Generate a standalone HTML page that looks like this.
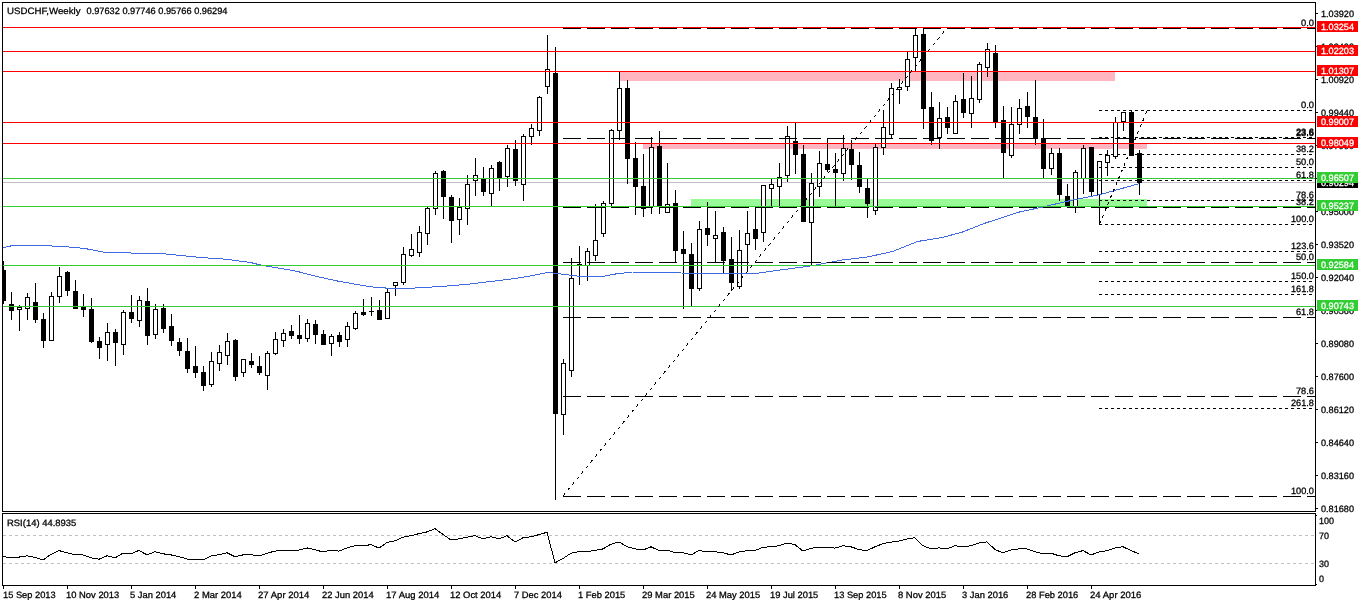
<!DOCTYPE html>
<html><head><meta charset="utf-8"><title>USDCHF Weekly</title>
<style>
html,body{margin:0;padding:0;background:#fff;}
body{width:1358px;height:606px;overflow:hidden;}
svg{display:block;}
svg text{font-family:"Liberation Sans",sans-serif;font-size:10px;white-space:pre;text-rendering:geometricPrecision;stroke:#000;stroke-width:0.3px;}
</style></head><body>
<svg width="1358" height="606" viewBox="0 0 1358 606" shape-rendering="crispEdges">
<rect x="0" y="0" width="1358" height="606" fill="#fff"/>
<g id="zones">
<rect x="619" y="72" width="496" height="9" fill="#ffb6c1"/>
<rect x="643" y="144" width="504" height="5" fill="#ffb6c1"/>
<rect x="691" y="199" width="456" height="7" fill="#98fb98"/>
</g>
<rect x="3" y="182" width="1312" height="1" fill="#c0c0c0"/>
<g id="candles">
<rect x="3" y="261" width="1" height="43" fill="#000"/>
<rect x="3" y="270" width="3" height="31" fill="#000"/>
<rect x="11" y="292" width="1" height="28" fill="#000"/>
<rect x="9" y="304" width="5" height="7" fill="#000"/>
<rect x="19" y="305" width="1" height="26" fill="#000"/>
<rect x="17" y="307" width="5" height="3" fill="#000"/>
<rect x="18" y="308" width="3" height="1" fill="#fff"/>
<rect x="27" y="293" width="1" height="27" fill="#000"/>
<rect x="25" y="297" width="5" height="12" fill="#000"/>
<rect x="26" y="298" width="3" height="10" fill="#fff"/>
<rect x="35" y="283" width="1" height="40" fill="#000"/>
<rect x="33" y="302" width="5" height="18" fill="#000"/>
<rect x="43" y="313" width="1" height="35" fill="#000"/>
<rect x="41" y="319" width="5" height="22" fill="#000"/>
<rect x="51" y="292" width="1" height="49" fill="#000"/>
<rect x="49" y="296" width="5" height="45" fill="#000"/>
<rect x="50" y="297" width="3" height="43" fill="#fff"/>
<rect x="59" y="267" width="1" height="36" fill="#000"/>
<rect x="57" y="276" width="5" height="21" fill="#000"/>
<rect x="58" y="277" width="3" height="19" fill="#fff"/>
<rect x="67" y="271" width="1" height="25" fill="#000"/>
<rect x="65" y="272" width="5" height="19" fill="#000"/>
<rect x="75" y="280" width="1" height="29" fill="#000"/>
<rect x="73" y="291" width="5" height="18" fill="#000"/>
<rect x="83" y="294" width="1" height="23" fill="#000"/>
<rect x="81" y="307" width="5" height="3" fill="#000"/>
<rect x="91" y="298" width="1" height="45" fill="#000"/>
<rect x="89" y="309" width="5" height="33" fill="#000"/>
<rect x="99" y="337" width="1" height="22" fill="#000"/>
<rect x="97" y="341" width="5" height="7" fill="#000"/>
<rect x="107" y="323" width="1" height="38" fill="#000"/>
<rect x="105" y="332" width="5" height="13" fill="#000"/>
<rect x="106" y="333" width="3" height="11" fill="#fff"/>
<rect x="115" y="329" width="1" height="37" fill="#000"/>
<rect x="113" y="332" width="5" height="11" fill="#000"/>
<rect x="123" y="310" width="1" height="45" fill="#000"/>
<rect x="121" y="312" width="5" height="33" fill="#000"/>
<rect x="122" y="313" width="3" height="31" fill="#fff"/>
<rect x="131" y="295" width="1" height="28" fill="#000"/>
<rect x="129" y="312" width="5" height="7" fill="#000"/>
<rect x="139" y="296" width="1" height="31" fill="#000"/>
<rect x="137" y="300" width="5" height="21" fill="#000"/>
<rect x="138" y="301" width="3" height="19" fill="#fff"/>
<rect x="147" y="288" width="1" height="57" fill="#000"/>
<rect x="145" y="301" width="5" height="35" fill="#000"/>
<rect x="155" y="304" width="1" height="35" fill="#000"/>
<rect x="153" y="309" width="5" height="26" fill="#000"/>
<rect x="154" y="310" width="3" height="24" fill="#fff"/>
<rect x="163" y="304" width="1" height="29" fill="#000"/>
<rect x="161" y="308" width="5" height="21" fill="#000"/>
<rect x="171" y="314" width="1" height="32" fill="#000"/>
<rect x="169" y="326" width="5" height="15" fill="#000"/>
<rect x="179" y="338" width="1" height="18" fill="#000"/>
<rect x="177" y="342" width="5" height="9" fill="#000"/>
<rect x="187" y="338" width="1" height="35" fill="#000"/>
<rect x="185" y="351" width="5" height="18" fill="#000"/>
<rect x="195" y="346" width="1" height="32" fill="#000"/>
<rect x="193" y="366" width="5" height="7" fill="#000"/>
<rect x="203" y="366" width="1" height="25" fill="#000"/>
<rect x="201" y="372" width="5" height="14" fill="#000"/>
<rect x="211" y="352" width="1" height="35" fill="#000"/>
<rect x="209" y="361" width="5" height="24" fill="#000"/>
<rect x="210" y="362" width="3" height="22" fill="#fff"/>
<rect x="219" y="345" width="1" height="26" fill="#000"/>
<rect x="217" y="352" width="5" height="12" fill="#000"/>
<rect x="218" y="353" width="3" height="10" fill="#fff"/>
<rect x="227" y="333" width="1" height="32" fill="#000"/>
<rect x="225" y="341" width="5" height="15" fill="#000"/>
<rect x="226" y="342" width="3" height="13" fill="#fff"/>
<rect x="235" y="339" width="1" height="42" fill="#000"/>
<rect x="233" y="340" width="5" height="37" fill="#000"/>
<rect x="243" y="359" width="1" height="18" fill="#000"/>
<rect x="241" y="359" width="5" height="14" fill="#000"/>
<rect x="242" y="360" width="3" height="12" fill="#fff"/>
<rect x="251" y="353" width="1" height="15" fill="#000"/>
<rect x="249" y="361" width="5" height="4" fill="#000"/>
<rect x="259" y="356" width="1" height="19" fill="#000"/>
<rect x="257" y="366" width="5" height="7" fill="#000"/>
<rect x="267" y="351" width="1" height="39" fill="#000"/>
<rect x="265" y="353" width="5" height="23" fill="#000"/>
<rect x="266" y="354" width="3" height="21" fill="#fff"/>
<rect x="275" y="332" width="1" height="23" fill="#000"/>
<rect x="273" y="339" width="5" height="15" fill="#000"/>
<rect x="274" y="340" width="3" height="13" fill="#fff"/>
<rect x="283" y="329" width="1" height="18" fill="#000"/>
<rect x="281" y="333" width="5" height="8" fill="#000"/>
<rect x="282" y="334" width="3" height="6" fill="#fff"/>
<rect x="291" y="325" width="1" height="14" fill="#000"/>
<rect x="289" y="331" width="5" height="5" fill="#000"/>
<rect x="299" y="315" width="1" height="29" fill="#000"/>
<rect x="297" y="335" width="5" height="4" fill="#000"/>
<rect x="307" y="319" width="1" height="23" fill="#000"/>
<rect x="305" y="323" width="5" height="16" fill="#000"/>
<rect x="306" y="324" width="3" height="14" fill="#fff"/>
<rect x="315" y="320" width="1" height="24" fill="#000"/>
<rect x="313" y="324" width="5" height="11" fill="#000"/>
<rect x="323" y="330" width="1" height="15" fill="#000"/>
<rect x="321" y="334" width="5" height="11" fill="#000"/>
<rect x="331" y="334" width="1" height="22" fill="#000"/>
<rect x="329" y="336" width="5" height="8" fill="#000"/>
<rect x="330" y="337" width="3" height="6" fill="#fff"/>
<rect x="339" y="332" width="1" height="15" fill="#000"/>
<rect x="337" y="335" width="5" height="7" fill="#000"/>
<rect x="347" y="322" width="1" height="25" fill="#000"/>
<rect x="345" y="326" width="5" height="14" fill="#000"/>
<rect x="346" y="327" width="3" height="12" fill="#fff"/>
<rect x="355" y="311" width="1" height="19" fill="#000"/>
<rect x="353" y="313" width="5" height="16" fill="#000"/>
<rect x="354" y="314" width="3" height="14" fill="#fff"/>
<rect x="363" y="299" width="1" height="17" fill="#000"/>
<rect x="361" y="312" width="5" height="3" fill="#000"/>
<rect x="371" y="297" width="1" height="19" fill="#000"/>
<rect x="369" y="311" width="5" height="1" fill="#000"/>
<rect x="379" y="300" width="1" height="20" fill="#000"/>
<rect x="377" y="310" width="5" height="10" fill="#000"/>
<rect x="387" y="289" width="1" height="30" fill="#000"/>
<rect x="385" y="292" width="5" height="27" fill="#000"/>
<rect x="386" y="293" width="3" height="25" fill="#fff"/>
<rect x="395" y="282" width="1" height="14" fill="#000"/>
<rect x="393" y="282" width="5" height="4" fill="#000"/>
<rect x="394" y="283" width="3" height="2" fill="#fff"/>
<rect x="403" y="247" width="1" height="38" fill="#000"/>
<rect x="401" y="254" width="5" height="29" fill="#000"/>
<rect x="402" y="255" width="3" height="27" fill="#fff"/>
<rect x="411" y="234" width="1" height="23" fill="#000"/>
<rect x="409" y="249" width="5" height="7" fill="#000"/>
<rect x="410" y="250" width="3" height="5" fill="#fff"/>
<rect x="419" y="226" width="1" height="31" fill="#000"/>
<rect x="417" y="232" width="5" height="21" fill="#000"/>
<rect x="418" y="233" width="3" height="19" fill="#fff"/>
<rect x="427" y="207" width="1" height="38" fill="#000"/>
<rect x="425" y="208" width="5" height="26" fill="#000"/>
<rect x="426" y="209" width="3" height="24" fill="#fff"/>
<rect x="435" y="171" width="1" height="44" fill="#000"/>
<rect x="433" y="173" width="5" height="36" fill="#000"/>
<rect x="434" y="174" width="3" height="34" fill="#fff"/>
<rect x="443" y="170" width="1" height="49" fill="#000"/>
<rect x="441" y="171" width="5" height="26" fill="#000"/>
<rect x="451" y="195" width="1" height="48" fill="#000"/>
<rect x="449" y="197" width="5" height="24" fill="#000"/>
<rect x="459" y="198" width="1" height="37" fill="#000"/>
<rect x="457" y="207" width="5" height="13" fill="#000"/>
<rect x="458" y="208" width="3" height="11" fill="#fff"/>
<rect x="467" y="175" width="1" height="50" fill="#000"/>
<rect x="465" y="184" width="5" height="25" fill="#000"/>
<rect x="466" y="185" width="3" height="23" fill="#fff"/>
<rect x="475" y="158" width="1" height="38" fill="#000"/>
<rect x="473" y="175" width="5" height="6" fill="#000"/>
<rect x="474" y="176" width="3" height="4" fill="#fff"/>
<rect x="483" y="167" width="1" height="29" fill="#000"/>
<rect x="481" y="179" width="5" height="13" fill="#000"/>
<rect x="491" y="165" width="1" height="41" fill="#000"/>
<rect x="489" y="168" width="5" height="26" fill="#000"/>
<rect x="490" y="169" width="3" height="24" fill="#fff"/>
<rect x="499" y="161" width="1" height="30" fill="#000"/>
<rect x="497" y="162" width="5" height="16" fill="#000"/>
<rect x="507" y="145" width="1" height="42" fill="#000"/>
<rect x="505" y="148" width="5" height="29" fill="#000"/>
<rect x="506" y="149" width="3" height="27" fill="#fff"/>
<rect x="515" y="140" width="1" height="46" fill="#000"/>
<rect x="513" y="149" width="5" height="32" fill="#000"/>
<rect x="523" y="134" width="1" height="67" fill="#000"/>
<rect x="521" y="136" width="5" height="49" fill="#000"/>
<rect x="522" y="137" width="3" height="47" fill="#fff"/>
<rect x="531" y="124" width="1" height="21" fill="#000"/>
<rect x="529" y="128" width="5" height="9" fill="#000"/>
<rect x="530" y="129" width="3" height="7" fill="#fff"/>
<rect x="539" y="96" width="1" height="40" fill="#000"/>
<rect x="537" y="97" width="5" height="34" fill="#000"/>
<rect x="538" y="98" width="3" height="32" fill="#fff"/>
<rect x="547" y="35" width="1" height="59" fill="#000"/>
<rect x="545" y="69" width="5" height="18" fill="#000"/>
<rect x="546" y="70" width="3" height="16" fill="#fff"/>
<rect x="555" y="47" width="1" height="453" fill="#000"/>
<rect x="553" y="73" width="5" height="341" fill="#000"/>
<rect x="563" y="359" width="1" height="76" fill="#000"/>
<rect x="561" y="363" width="5" height="52" fill="#000"/>
<rect x="562" y="364" width="3" height="50" fill="#fff"/>
<rect x="571" y="258" width="1" height="119" fill="#000"/>
<rect x="569" y="278" width="5" height="93" fill="#000"/>
<rect x="570" y="279" width="3" height="91" fill="#fff"/>
<rect x="579" y="246" width="1" height="39" fill="#000"/>
<rect x="577" y="264" width="5" height="1" fill="#000"/>
<rect x="587" y="248" width="1" height="33" fill="#000"/>
<rect x="585" y="251" width="5" height="15" fill="#000"/>
<rect x="586" y="252" width="3" height="13" fill="#fff"/>
<rect x="595" y="204" width="1" height="57" fill="#000"/>
<rect x="593" y="240" width="5" height="16" fill="#000"/>
<rect x="594" y="241" width="3" height="14" fill="#fff"/>
<rect x="603" y="201" width="1" height="36" fill="#000"/>
<rect x="601" y="203" width="5" height="31" fill="#000"/>
<rect x="602" y="204" width="3" height="29" fill="#fff"/>
<rect x="611" y="129" width="1" height="77" fill="#000"/>
<rect x="609" y="130" width="5" height="74" fill="#000"/>
<rect x="610" y="131" width="3" height="72" fill="#fff"/>
<rect x="619" y="72" width="1" height="68" fill="#000"/>
<rect x="617" y="88" width="5" height="43" fill="#000"/>
<rect x="618" y="89" width="3" height="41" fill="#fff"/>
<rect x="627" y="80" width="1" height="104" fill="#000"/>
<rect x="625" y="88" width="5" height="71" fill="#000"/>
<rect x="635" y="142" width="1" height="73" fill="#000"/>
<rect x="633" y="158" width="5" height="29" fill="#000"/>
<rect x="643" y="154" width="1" height="63" fill="#000"/>
<rect x="641" y="186" width="5" height="23" fill="#000"/>
<rect x="651" y="137" width="1" height="77" fill="#000"/>
<rect x="649" y="147" width="5" height="60" fill="#000"/>
<rect x="650" y="148" width="3" height="58" fill="#fff"/>
<rect x="659" y="131" width="1" height="83" fill="#000"/>
<rect x="657" y="146" width="5" height="61" fill="#000"/>
<rect x="667" y="163" width="1" height="50" fill="#000"/>
<rect x="665" y="204" width="5" height="9" fill="#000"/>
<rect x="666" y="205" width="3" height="7" fill="#fff"/>
<rect x="675" y="190" width="1" height="73" fill="#000"/>
<rect x="673" y="203" width="5" height="48" fill="#000"/>
<rect x="683" y="231" width="1" height="78" fill="#000"/>
<rect x="681" y="249" width="5" height="5" fill="#000"/>
<rect x="691" y="243" width="1" height="64" fill="#000"/>
<rect x="689" y="254" width="5" height="35" fill="#000"/>
<rect x="699" y="221" width="1" height="70" fill="#000"/>
<rect x="697" y="229" width="5" height="60" fill="#000"/>
<rect x="698" y="230" width="3" height="58" fill="#fff"/>
<rect x="707" y="202" width="1" height="44" fill="#000"/>
<rect x="705" y="228" width="5" height="7" fill="#000"/>
<rect x="715" y="211" width="1" height="52" fill="#000"/>
<rect x="713" y="235" width="5" height="4" fill="#000"/>
<rect x="714" y="236" width="3" height="2" fill="#fff"/>
<rect x="723" y="227" width="1" height="46" fill="#000"/>
<rect x="721" y="232" width="5" height="29" fill="#000"/>
<rect x="731" y="237" width="1" height="54" fill="#000"/>
<rect x="729" y="259" width="5" height="24" fill="#000"/>
<rect x="739" y="230" width="1" height="59" fill="#000"/>
<rect x="737" y="250" width="5" height="37" fill="#000"/>
<rect x="738" y="251" width="3" height="35" fill="#fff"/>
<rect x="747" y="211" width="1" height="60" fill="#000"/>
<rect x="745" y="233" width="5" height="12" fill="#000"/>
<rect x="746" y="234" width="3" height="10" fill="#fff"/>
<rect x="755" y="207" width="1" height="43" fill="#000"/>
<rect x="753" y="229" width="5" height="10" fill="#000"/>
<rect x="763" y="185" width="1" height="57" fill="#000"/>
<rect x="761" y="185" width="5" height="48" fill="#000"/>
<rect x="762" y="186" width="3" height="46" fill="#fff"/>
<rect x="771" y="179" width="1" height="27" fill="#000"/>
<rect x="769" y="184" width="5" height="5" fill="#000"/>
<rect x="770" y="185" width="3" height="3" fill="#fff"/>
<rect x="779" y="163" width="1" height="43" fill="#000"/>
<rect x="777" y="177" width="5" height="10" fill="#000"/>
<rect x="778" y="178" width="3" height="8" fill="#fff"/>
<rect x="787" y="126" width="1" height="56" fill="#000"/>
<rect x="785" y="136" width="5" height="40" fill="#000"/>
<rect x="786" y="137" width="3" height="38" fill="#fff"/>
<rect x="795" y="123" width="1" height="51" fill="#000"/>
<rect x="793" y="141" width="5" height="14" fill="#000"/>
<rect x="803" y="145" width="1" height="77" fill="#000"/>
<rect x="801" y="154" width="5" height="68" fill="#000"/>
<rect x="811" y="173" width="1" height="93" fill="#000"/>
<rect x="809" y="183" width="5" height="40" fill="#000"/>
<rect x="810" y="184" width="3" height="38" fill="#fff"/>
<rect x="819" y="151" width="1" height="46" fill="#000"/>
<rect x="817" y="163" width="5" height="24" fill="#000"/>
<rect x="818" y="164" width="3" height="22" fill="#fff"/>
<rect x="827" y="138" width="1" height="34" fill="#000"/>
<rect x="825" y="164" width="5" height="6" fill="#000"/>
<rect x="835" y="153" width="1" height="53" fill="#000"/>
<rect x="833" y="169" width="5" height="4" fill="#000"/>
<rect x="843" y="135" width="1" height="46" fill="#000"/>
<rect x="841" y="148" width="5" height="26" fill="#000"/>
<rect x="842" y="149" width="3" height="24" fill="#fff"/>
<rect x="851" y="140" width="1" height="40" fill="#000"/>
<rect x="849" y="149" width="5" height="16" fill="#000"/>
<rect x="859" y="152" width="1" height="41" fill="#000"/>
<rect x="857" y="165" width="5" height="22" fill="#000"/>
<rect x="867" y="179" width="1" height="39" fill="#000"/>
<rect x="865" y="188" width="5" height="16" fill="#000"/>
<rect x="875" y="144" width="1" height="71" fill="#000"/>
<rect x="873" y="147" width="5" height="64" fill="#000"/>
<rect x="874" y="148" width="3" height="62" fill="#fff"/>
<rect x="883" y="110" width="1" height="45" fill="#000"/>
<rect x="881" y="127" width="5" height="21" fill="#000"/>
<rect x="882" y="128" width="3" height="19" fill="#fff"/>
<rect x="891" y="83" width="1" height="56" fill="#000"/>
<rect x="889" y="88" width="5" height="47" fill="#000"/>
<rect x="890" y="89" width="3" height="45" fill="#fff"/>
<rect x="899" y="79" width="1" height="25" fill="#000"/>
<rect x="897" y="87" width="5" height="3" fill="#000"/>
<rect x="898" y="88" width="3" height="1" fill="#fff"/>
<rect x="907" y="52" width="1" height="39" fill="#000"/>
<rect x="905" y="59" width="5" height="28" fill="#000"/>
<rect x="906" y="60" width="3" height="26" fill="#fff"/>
<rect x="915" y="28" width="1" height="44" fill="#000"/>
<rect x="913" y="35" width="5" height="23" fill="#000"/>
<rect x="914" y="36" width="3" height="21" fill="#fff"/>
<rect x="923" y="28" width="1" height="101" fill="#000"/>
<rect x="921" y="34" width="5" height="75" fill="#000"/>
<rect x="931" y="92" width="1" height="53" fill="#000"/>
<rect x="929" y="107" width="5" height="34" fill="#000"/>
<rect x="939" y="102" width="1" height="47" fill="#000"/>
<rect x="937" y="118" width="5" height="20" fill="#000"/>
<rect x="938" y="119" width="3" height="18" fill="#fff"/>
<rect x="947" y="107" width="1" height="27" fill="#000"/>
<rect x="945" y="117" width="5" height="11" fill="#000"/>
<rect x="955" y="95" width="1" height="39" fill="#000"/>
<rect x="953" y="101" width="5" height="33" fill="#000"/>
<rect x="954" y="102" width="3" height="31" fill="#fff"/>
<rect x="963" y="73" width="1" height="45" fill="#000"/>
<rect x="961" y="99" width="5" height="14" fill="#000"/>
<rect x="971" y="76" width="1" height="52" fill="#000"/>
<rect x="969" y="98" width="5" height="16" fill="#000"/>
<rect x="970" y="99" width="3" height="14" fill="#fff"/>
<rect x="979" y="62" width="1" height="41" fill="#000"/>
<rect x="977" y="64" width="5" height="36" fill="#000"/>
<rect x="978" y="65" width="3" height="34" fill="#fff"/>
<rect x="987" y="43" width="1" height="34" fill="#000"/>
<rect x="985" y="49" width="5" height="19" fill="#000"/>
<rect x="986" y="50" width="3" height="17" fill="#fff"/>
<rect x="995" y="45" width="1" height="83" fill="#000"/>
<rect x="993" y="53" width="5" height="70" fill="#000"/>
<rect x="1003" y="106" width="1" height="72" fill="#000"/>
<rect x="1001" y="120" width="5" height="33" fill="#000"/>
<rect x="1011" y="107" width="1" height="51" fill="#000"/>
<rect x="1009" y="124" width="5" height="32" fill="#000"/>
<rect x="1010" y="125" width="3" height="30" fill="#fff"/>
<rect x="1019" y="99" width="1" height="35" fill="#000"/>
<rect x="1017" y="108" width="5" height="17" fill="#000"/>
<rect x="1018" y="109" width="3" height="15" fill="#fff"/>
<rect x="1027" y="92" width="1" height="36" fill="#000"/>
<rect x="1025" y="106" width="5" height="11" fill="#000"/>
<rect x="1035" y="80" width="1" height="65" fill="#000"/>
<rect x="1033" y="117" width="5" height="22" fill="#000"/>
<rect x="1043" y="119" width="1" height="60" fill="#000"/>
<rect x="1041" y="138" width="5" height="31" fill="#000"/>
<rect x="1051" y="148" width="1" height="27" fill="#000"/>
<rect x="1049" y="153" width="5" height="16" fill="#000"/>
<rect x="1050" y="154" width="3" height="14" fill="#fff"/>
<rect x="1059" y="148" width="1" height="53" fill="#000"/>
<rect x="1057" y="153" width="5" height="42" fill="#000"/>
<rect x="1067" y="184" width="1" height="22" fill="#000"/>
<rect x="1065" y="196" width="5" height="10" fill="#000"/>
<rect x="1075" y="170" width="1" height="43" fill="#000"/>
<rect x="1073" y="172" width="5" height="35" fill="#000"/>
<rect x="1074" y="173" width="3" height="33" fill="#fff"/>
<rect x="1083" y="145" width="1" height="49" fill="#000"/>
<rect x="1081" y="148" width="5" height="31" fill="#000"/>
<rect x="1082" y="149" width="3" height="29" fill="#fff"/>
<rect x="1091" y="147" width="1" height="50" fill="#000"/>
<rect x="1089" y="147" width="5" height="45" fill="#000"/>
<rect x="1099" y="161" width="1" height="64" fill="#000"/>
<rect x="1097" y="161" width="5" height="34" fill="#000"/>
<rect x="1098" y="162" width="3" height="32" fill="#fff"/>
<rect x="1107" y="150" width="1" height="26" fill="#000"/>
<rect x="1105" y="155" width="5" height="8" fill="#000"/>
<rect x="1106" y="156" width="3" height="6" fill="#fff"/>
<rect x="1115" y="117" width="1" height="42" fill="#000"/>
<rect x="1113" y="122" width="5" height="35" fill="#000"/>
<rect x="1114" y="123" width="3" height="33" fill="#fff"/>
<rect x="1123" y="112" width="1" height="19" fill="#000"/>
<rect x="1121" y="112" width="5" height="10" fill="#000"/>
<rect x="1122" y="113" width="3" height="8" fill="#fff"/>
<rect x="1131" y="110" width="1" height="46" fill="#000"/>
<rect x="1129" y="112" width="5" height="44" fill="#000"/>
<rect x="1139" y="150" width="1" height="45" fill="#000"/>
<rect x="1137" y="153" width="5" height="30" fill="#000"/>
</g>
<polyline points="3.5,247.5 10.5,246.0 20.5,245.5 40.5,245.5 62.5,246.5 75.5,247.5 87.5,249.0 105.5,252.5 130.5,253.0 160.5,253.5 180.5,255.5 200.5,257.5 225.5,259.2 250.5,262.5 262.5,265.5 287.5,269.5 300.5,272.2 312.5,275.5 337.5,281.0 340.5,281.5 365.5,286.0 378.5,287.7 385.5,288.0 415.5,288.0 440.5,286.5 465.5,284.5 490.5,281.5 515.5,278.5 532.5,275.5 547.5,272.5 552.5,273.0 565.5,274.5 580.5,276.5 602.5,276.5 615.5,274.0 632.5,272.0 670.5,272.0 680.5,273.0 720.5,273.5 755.5,273.5 780.5,270.0 810.5,266.0 842.5,260.0 867.5,257.0 892.5,251.5 917.5,241.5 942.5,237.5 962.5,232.0 985.5,223.0 1005.5,216.5 1019.5,212.0 1040.5,207.5 1068.5,201.0 1100.5,194.5 1139.5,183.5" fill="none" stroke="#4169e1" stroke-width="1"/>
<g id="hlines">
<rect x="3" y="27" width="1312" height="1" fill="#ff0000"/>
<rect x="3" y="51" width="1312" height="1" fill="#ff0000"/>
<rect x="3" y="71" width="1312" height="1" fill="#ff0000"/>
<rect x="3" y="122" width="1312" height="1" fill="#ff0000"/>
<rect x="3" y="143" width="1312" height="1" fill="#ff0000"/>
<rect x="3" y="178" width="1312" height="1" fill="#32cd32"/>
<rect x="3" y="206" width="1312" height="1" fill="#32cd32"/>
<rect x="3" y="265" width="1312" height="1" fill="#32cd32"/>
<rect x="3" y="306" width="1312" height="1" fill="#32cd32"/>
</g>
<g id="fib1" stroke="#000" stroke-width="1" fill="none">
<line x1="563" y1="28.5" x2="1315" y2="28.5" stroke-dasharray="18 6"/>
<line x1="563" y1="138.5" x2="1315" y2="138.5" stroke-dasharray="18 6"/>
<line x1="563" y1="207.5" x2="1315" y2="207.5" stroke-dasharray="18 6"/>
<line x1="563" y1="262.5" x2="1315" y2="262.5" stroke-dasharray="18 6"/>
<line x1="563" y1="317.5" x2="1315" y2="317.5" stroke-dasharray="18 6"/>
<line x1="563" y1="396.5" x2="1315" y2="396.5" stroke-dasharray="18 6"/>
<line x1="563" y1="496.5" x2="1315" y2="496.5" stroke-dasharray="18 6"/>
<line x1="563" y1="496" x2="947" y2="28" stroke-dasharray="3 4.2"/>
</g>
<g id="fib2" stroke="#000" stroke-width="1" fill="none">
<line x1="1099" y1="110.5" x2="1315" y2="110.5" stroke-dasharray="3 3"/>
<line x1="1099" y1="137.5" x2="1315" y2="137.5" stroke-dasharray="3 3"/>
<line x1="1099" y1="154.5" x2="1315" y2="154.5" stroke-dasharray="3 3"/>
<line x1="1099" y1="167.5" x2="1315" y2="167.5" stroke-dasharray="3 3"/>
<line x1="1099" y1="180.5" x2="1315" y2="180.5" stroke-dasharray="3 3"/>
<line x1="1099" y1="200.5" x2="1315" y2="200.5" stroke-dasharray="3 3"/>
<line x1="1099" y1="224.5" x2="1315" y2="224.5" stroke-dasharray="3 3"/>
<line x1="1099" y1="251.5" x2="1315" y2="251.5" stroke-dasharray="3 3"/>
<line x1="1099" y1="281.5" x2="1315" y2="281.5" stroke-dasharray="3 3"/>
<line x1="1099" y1="294.5" x2="1315" y2="294.5" stroke-dasharray="3 3"/>
<line x1="1099" y1="408.5" x2="1315" y2="408.5" stroke-dasharray="3 3"/>
<line x1="1099.5" y1="224" x2="1147" y2="111" stroke-dasharray="3 4"/>
</g>
<g id="fiblabels">
<text transform="translate(1300.97 25.5) scale(1 0.92)" textLength="13.0" lengthAdjust="spacingAndGlyphs">0.0</text>
<text transform="translate(1295.97 135.5) scale(1 0.92)" textLength="18.0" lengthAdjust="spacingAndGlyphs">23.6</text>
<text transform="translate(1295.97 204.5) scale(1 0.92)" textLength="18.0" lengthAdjust="spacingAndGlyphs">38.2</text>
<text transform="translate(1295.97 259.5) scale(1 0.92)" textLength="18.0" lengthAdjust="spacingAndGlyphs">50.0</text>
<text transform="translate(1295.97 314.5) scale(1 0.92)" textLength="18.0" lengthAdjust="spacingAndGlyphs">61.8</text>
<text transform="translate(1295.97 393.5) scale(1 0.92)" textLength="18.0" lengthAdjust="spacingAndGlyphs">78.6</text>
<text transform="translate(1290.97 493.5) scale(1 0.92)" textLength="23.0" lengthAdjust="spacingAndGlyphs">100.0</text>
<text transform="translate(1300.97 107.5) scale(1 0.92)" textLength="13.0" lengthAdjust="spacingAndGlyphs">0.0</text>
<text transform="translate(1295.97 134.5) scale(1 0.92)" textLength="18.0" lengthAdjust="spacingAndGlyphs">23.6</text>
<text transform="translate(1295.97 151.5) scale(1 0.92)" textLength="18.0" lengthAdjust="spacingAndGlyphs">38.2</text>
<text transform="translate(1295.97 164.5) scale(1 0.92)" textLength="18.0" lengthAdjust="spacingAndGlyphs">50.0</text>
<text transform="translate(1295.97 177.5) scale(1 0.92)" textLength="18.0" lengthAdjust="spacingAndGlyphs">61.8</text>
<text transform="translate(1295.97 197.5) scale(1 0.92)" textLength="18.0" lengthAdjust="spacingAndGlyphs">78.6</text>
<text transform="translate(1290.97 221.5) scale(1 0.92)" textLength="23.0" lengthAdjust="spacingAndGlyphs">100.0</text>
<text transform="translate(1290.97 248.5) scale(1 0.92)" textLength="23.0" lengthAdjust="spacingAndGlyphs">123.6</text>
<text transform="translate(1290.97 278.5) scale(1 0.92)" textLength="23.0" lengthAdjust="spacingAndGlyphs">150.0</text>
<text transform="translate(1290.97 291.5) scale(1 0.92)" textLength="23.0" lengthAdjust="spacingAndGlyphs">161.8</text>
<text transform="translate(1290.97 405.5) scale(1 0.92)" textLength="23.0" lengthAdjust="spacingAndGlyphs">261.8</text>
</g>
<g id="frame">
<rect x="2" y="2" width="1314" height="1" fill="#000"/>
<rect x="2" y="2" width="1" height="510" fill="#000"/>
<rect x="2" y="513" width="1" height="73" fill="#000"/>
<rect x="1315" y="2" width="1" height="510" fill="#000"/>
<rect x="1315" y="513" width="1" height="73" fill="#000"/>
<rect x="1316" y="515" width="1" height="1" fill="#000"/>
<rect x="1316" y="584" width="1" height="1" fill="#000"/>
<rect x="2" y="511" width="1314" height="1" fill="#000"/>
<rect x="2" y="513" width="1314" height="1" fill="#000"/>
<rect x="2" y="585" width="1314" height="1" fill="#000"/>
</g>
<g id="paxis">
<rect x="1316" y="13" width="2" height="1" fill="#000"/>
<text transform="translate(1321 17) scale(1 0.92)" textLength="33.0" lengthAdjust="spacingAndGlyphs">1.03920</text>
<rect x="1316" y="46" width="2" height="1" fill="#000"/>
<text transform="translate(1321 50) scale(1 0.92)" textLength="33.0" lengthAdjust="spacingAndGlyphs">1.02400</text>
<rect x="1316" y="79" width="2" height="1" fill="#000"/>
<text transform="translate(1321 83) scale(1 0.92)" textLength="33.0" lengthAdjust="spacingAndGlyphs">1.00920</text>
<rect x="1316" y="112" width="2" height="1" fill="#000"/>
<text transform="translate(1321 116) scale(1 0.92)" textLength="33.0" lengthAdjust="spacingAndGlyphs">0.99440</text>
<rect x="1316" y="145" width="2" height="1" fill="#000"/>
<text transform="translate(1321 149) scale(1 0.92)" textLength="33.0" lengthAdjust="spacingAndGlyphs">0.97960</text>
<rect x="1316" y="178" width="2" height="1" fill="#000"/>
<text transform="translate(1321 182) scale(1 0.92)" textLength="33.0" lengthAdjust="spacingAndGlyphs">0.96480</text>
<rect x="1316" y="211" width="2" height="1" fill="#000"/>
<text transform="translate(1321 215) scale(1 0.92)" textLength="33.0" lengthAdjust="spacingAndGlyphs">0.95000</text>
<rect x="1316" y="244" width="2" height="1" fill="#000"/>
<text transform="translate(1321 248) scale(1 0.92)" textLength="33.0" lengthAdjust="spacingAndGlyphs">0.93520</text>
<rect x="1316" y="277" width="2" height="1" fill="#000"/>
<text transform="translate(1321 281) scale(1 0.92)" textLength="33.0" lengthAdjust="spacingAndGlyphs">0.92040</text>
<rect x="1316" y="310" width="2" height="1" fill="#000"/>
<text transform="translate(1321 314) scale(1 0.92)" textLength="33.0" lengthAdjust="spacingAndGlyphs">0.90560</text>
<rect x="1316" y="343" width="2" height="1" fill="#000"/>
<text transform="translate(1321 347) scale(1 0.92)" textLength="33.0" lengthAdjust="spacingAndGlyphs">0.89080</text>
<rect x="1316" y="376" width="2" height="1" fill="#000"/>
<text transform="translate(1321 380) scale(1 0.92)" textLength="33.0" lengthAdjust="spacingAndGlyphs">0.87600</text>
<rect x="1316" y="409" width="2" height="1" fill="#000"/>
<text transform="translate(1321 413) scale(1 0.92)" textLength="33.0" lengthAdjust="spacingAndGlyphs">0.86120</text>
<rect x="1316" y="442" width="2" height="1" fill="#000"/>
<text transform="translate(1321 446) scale(1 0.92)" textLength="33.0" lengthAdjust="spacingAndGlyphs">0.84640</text>
<rect x="1316" y="475" width="2" height="1" fill="#000"/>
<text transform="translate(1321 479) scale(1 0.92)" textLength="33.0" lengthAdjust="spacingAndGlyphs">0.83160</text>
<rect x="1316" y="508" width="2" height="1" fill="#000"/>
<text transform="translate(1321 512) scale(1 0.92)" textLength="33.0" lengthAdjust="spacingAndGlyphs">0.81680</text>
</g>
<g id="tags">
<rect x="1317" y="177" width="41" height="11" fill="#000"/>
<text transform="translate(1321 186) scale(1 0.92)" textLength="33.0" lengthAdjust="spacingAndGlyphs" fill="#fff" style="stroke:#fff">0.96294</text>
<rect x="1317" y="21" width="41" height="11" fill="#ff0000"/>
<text transform="translate(1321 30) scale(1 0.92)" textLength="33.0" lengthAdjust="spacingAndGlyphs" fill="#fff" style="stroke:#fff">1.03254</text>
<rect x="1317" y="45" width="41" height="11" fill="#ff0000"/>
<text transform="translate(1321 54) scale(1 0.92)" textLength="33.0" lengthAdjust="spacingAndGlyphs" fill="#fff" style="stroke:#fff">1.02203</text>
<rect x="1317" y="65" width="41" height="11" fill="#ff0000"/>
<text transform="translate(1321 74) scale(1 0.92)" textLength="33.0" lengthAdjust="spacingAndGlyphs" fill="#fff" style="stroke:#fff">1.01307</text>
<rect x="1317" y="116" width="41" height="11" fill="#ff0000"/>
<text transform="translate(1321 125) scale(1 0.92)" textLength="33.0" lengthAdjust="spacingAndGlyphs" fill="#fff" style="stroke:#fff">0.99007</text>
<rect x="1317" y="137" width="41" height="11" fill="#ff0000"/>
<text transform="translate(1321 146) scale(1 0.92)" textLength="33.0" lengthAdjust="spacingAndGlyphs" fill="#fff" style="stroke:#fff">0.98049</text>
<rect x="1317" y="172" width="41" height="11" fill="#32cd32"/>
<text transform="translate(1321 181) scale(1 0.92)" textLength="33.0" lengthAdjust="spacingAndGlyphs" fill="#fff" style="stroke:#fff">0.96507</text>
<rect x="1317" y="200" width="41" height="11" fill="#32cd32"/>
<text transform="translate(1321 209) scale(1 0.92)" textLength="33.0" lengthAdjust="spacingAndGlyphs" fill="#fff" style="stroke:#fff">0.95237</text>
<rect x="1317" y="259" width="41" height="11" fill="#32cd32"/>
<text transform="translate(1321 268) scale(1 0.92)" textLength="33.0" lengthAdjust="spacingAndGlyphs" fill="#fff" style="stroke:#fff">0.92584</text>
<rect x="1317" y="300" width="41" height="11" fill="#32cd32"/>
<text transform="translate(1321 309) scale(1 0.92)" textLength="33.0" lengthAdjust="spacingAndGlyphs" fill="#fff" style="stroke:#fff">0.90743</text>
</g>
<g id="rsi">
<line x1="3" y1="535.5" x2="1315" y2="535.5" stroke="#c0c0c0" stroke-dasharray="3 3"/>
<line x1="3" y1="563.5" x2="1315" y2="563.5" stroke="#c0c0c0" stroke-dasharray="3 3"/>
<polyline points="3,556.4 11,557.9 19,557.1 27,555.8 35,557.5 43,560.0 51,554.3 59,550.6 67,552.8 75,554.9 83,554.9 91,557.9 99,559.2 107,555.8 115,557.9 123,553.2 131,553.8 139,550.4 147,554.9 155,551.7 163,553.8 171,554.9 179,556.6 187,559.0 195,559.0 203,560.0 211,556.0 219,554.7 227,552.8 235,556.8 243,554.9 251,554.7 259,556.0 267,553.2 275,551.1 283,550.0 291,550.0 299,550.0 307,547.9 315,549.6 323,552.1 331,550.0 339,551.1 347,547.9 355,545.7 363,545.7 371,544.7 379,548.1 387,542.5 395,540.8 403,537.2 411,535.7 419,533.6 427,531.9 435,528.7 443,534.4 451,540.0 459,538.9 467,537.2 475,535.7 483,538.9 491,536.8 499,538.9 507,535.7 515,541.9 523,537.8 531,536.8 539,534.6 547,532.3 555,562.8 563,558.5 571,553.2 579,551.5 587,551.7 595,550.4 603,548.9 611,544.2 619,541.9 627,546.8 635,548.9 643,550.0 651,546.8 659,550.6 667,550.0 675,552.8 683,552.8 691,554.9 699,550.6 707,551.7 715,551.7 723,552.8 731,554.9 739,552.1 747,550.6 755,550.6 763,547.2 771,546.8 779,545.7 787,543.0 795,544.7 803,551.1 811,548.3 819,547.2 827,547.2 835,548.1 843,545.7 851,546.8 859,549.6 867,550.6 875,546.8 883,543.6 891,542.1 899,541.0 907,538.9 915,537.8 923,545.7 931,548.9 939,547.9 947,548.9 955,545.7 963,546.8 971,545.7 979,543.0 987,541.9 995,549.6 1003,552.8 1011,550.0 1019,548.9 1027,548.9 1035,551.7 1043,553.8 1051,553.2 1059,555.8 1067,556.8 1075,552.8 1083,550.6 1091,554.9 1099,552.1 1107,550.6 1115,547.9 1123,546.8 1131,550.6 1139,553.8" fill="none" stroke="#000" stroke-width="1"/>
<text transform="translate(7 526) scale(1 0.92)" textLength="69.3" lengthAdjust="spacingAndGlyphs">RSI(14) 44.8935</text>
<text transform="translate(1319 524) scale(1 0.92)" textLength="15.0" lengthAdjust="spacingAndGlyphs">100</text>
<text transform="translate(1319 539) scale(1 0.92)" textLength="10.0" lengthAdjust="spacingAndGlyphs">70</text>
<text transform="translate(1319 567) scale(1 0.92)" textLength="10.0" lengthAdjust="spacingAndGlyphs">30</text>
<text transform="translate(1319 582) scale(1 0.92)" textLength="5.0" lengthAdjust="spacingAndGlyphs">0</text>
</g>
<g id="dates">
<rect x="3" y="586" width="1" height="3" fill="#000"/>
<text transform="translate(3 598) scale(1 0.92)" textLength="52.6" lengthAdjust="spacingAndGlyphs">15 Sep 2013</text>
<rect x="67" y="586" width="1" height="3" fill="#000"/>
<text transform="translate(66 598) scale(1 0.92)" textLength="53.3" lengthAdjust="spacingAndGlyphs">10 Nov 2013</text>
<rect x="131" y="586" width="1" height="3" fill="#000"/>
<text transform="translate(130 598) scale(1 0.92)" textLength="46.3" lengthAdjust="spacingAndGlyphs">5 Jan 2014</text>
<rect x="195" y="586" width="1" height="3" fill="#000"/>
<text transform="translate(194 598) scale(1 0.92)" textLength="47.8" lengthAdjust="spacingAndGlyphs">2 Mar 2014</text>
<rect x="259" y="586" width="1" height="3" fill="#000"/>
<text transform="translate(258 598) scale(1 0.92)" textLength="51.4" lengthAdjust="spacingAndGlyphs">27 Apr 2014</text>
<rect x="323" y="586" width="1" height="3" fill="#000"/>
<text transform="translate(322 598) scale(1 0.92)" textLength="51.6" lengthAdjust="spacingAndGlyphs">22 Jun 2014</text>
<rect x="387" y="586" width="1" height="3" fill="#000"/>
<text transform="translate(386 598) scale(1 0.92)" textLength="53.4" lengthAdjust="spacingAndGlyphs">17 Aug 2014</text>
<rect x="451" y="586" width="1" height="3" fill="#000"/>
<text transform="translate(450 598) scale(1 0.92)" textLength="51.3" lengthAdjust="spacingAndGlyphs">12 Oct 2014</text>
<rect x="515" y="586" width="1" height="3" fill="#000"/>
<text transform="translate(514 598) scale(1 0.92)" textLength="47.9" lengthAdjust="spacingAndGlyphs">7 Dec 2014</text>
<rect x="579" y="586" width="1" height="3" fill="#000"/>
<text transform="translate(578 598) scale(1 0.92)" textLength="47.3" lengthAdjust="spacingAndGlyphs">1 Feb 2015</text>
<rect x="643" y="586" width="1" height="3" fill="#000"/>
<text transform="translate(642 598) scale(1 0.92)" textLength="52.8" lengthAdjust="spacingAndGlyphs">29 Mar 2015</text>
<rect x="707" y="586" width="1" height="3" fill="#000"/>
<text transform="translate(706 598) scale(1 0.92)" textLength="54.2" lengthAdjust="spacingAndGlyphs">24 May 2015</text>
<rect x="771" y="586" width="1" height="3" fill="#000"/>
<text transform="translate(770 598) scale(1 0.92)" textLength="48.3" lengthAdjust="spacingAndGlyphs">19 Jul 2015</text>
<rect x="835" y="586" width="1" height="3" fill="#000"/>
<text transform="translate(834 598) scale(1 0.92)" textLength="52.6" lengthAdjust="spacingAndGlyphs">13 Sep 2015</text>
<rect x="899" y="586" width="1" height="3" fill="#000"/>
<text transform="translate(898 598) scale(1 0.92)" textLength="48.3" lengthAdjust="spacingAndGlyphs">8 Nov 2015</text>
<rect x="963" y="586" width="1" height="3" fill="#000"/>
<text transform="translate(962 598) scale(1 0.92)" textLength="46.3" lengthAdjust="spacingAndGlyphs">3 Jan 2016</text>
<rect x="1027" y="586" width="1" height="3" fill="#000"/>
<text transform="translate(1026 598) scale(1 0.92)" textLength="52.3" lengthAdjust="spacingAndGlyphs">28 Feb 2016</text>
<rect x="1091" y="586" width="1" height="3" fill="#000"/>
<text transform="translate(1090 598) scale(1 0.92)" textLength="51.4" lengthAdjust="spacingAndGlyphs">24 Apr 2016</text>
</g>
<text transform="translate(7 14) scale(1 0.92)" textLength="73.5" lengthAdjust="spacingAndGlyphs">USDCHF,Weekly</text>
<text transform="translate(86.5 14) scale(1 0.92)" textLength="141.0" lengthAdjust="spacingAndGlyphs">0.97632 0.97746 0.95766 0.96294</text>
</svg>
</body></html>
